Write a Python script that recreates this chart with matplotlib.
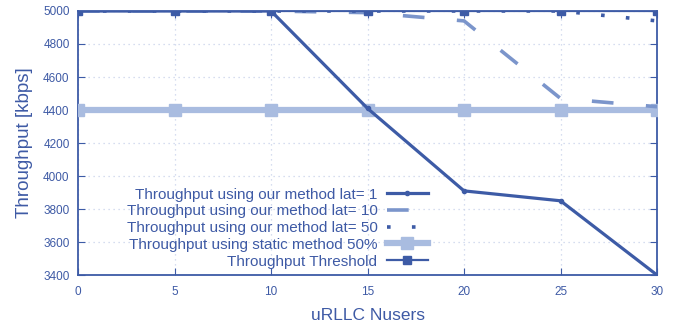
import matplotlib
matplotlib.use("Agg")
from matplotlib import pyplot as plt

plt.rcParams['font.family'] = ['Liberation Sans', 'DejaVu Sans']

# data
nusers = [0, 5, 10, 15, 20, 25, 30]
thr_lat1 = [5000, 5000, 5000, 4410, 3910, 3850, 3400]
thr_lat10 = [5000, 5000, 5000, 4990, 4940, 4470, 4420]
thr_lat50 = [5000, 5000, 5000, 5000, 5000, 5000, 4940]
thr_static = [4400, 4400, 4400, 4400, 4400, 4400, 4400]
thr_threshold = [5000, 5000, 5000, 5000, 5000, 5000, 5000]

dark = "#3d5ba6"
mid = "#7b95cb"
light = "#a9bce0"
text_c = "#3e5aa5"

fig = plt.figure(figsize=(6.88, 3.31), dpi=100)
ax = fig.add_axes([0.1134, 0.169, 0.8416, 0.7978])

ax.plot(nusers, thr_lat1, color=dark, lw=2.3, marker="o", markersize=3,
        label="Throughput using our method lat= 1", zorder=5)
ax.plot(nusers, thr_lat10, color=mid, lw=2.6, dashes=(6, 9),
        label="Throughput using our method lat= 10", zorder=4)
ax.plot(nusers, thr_lat50, color=dark, lw=2.6, linestyle=(0, (1, 5.9)),
        dash_capstyle="butt", label="Throughput using our method lat= 50", zorder=4)
ax.plot(nusers, thr_static, color=light, lw=4.5, marker="s", markersize=8,
        label="Throughput using static method 50%", zorder=3)
ax.plot(nusers, thr_threshold, color=dark, lw=1.6, marker="s", markersize=5.5,
        label="Throughput Threshold", zorder=6)

ax.set_xlim(0, 30)
ax.set_ylim(3400, 5000)
ax.set_xticks(range(0, 31, 5))
ax.set_yticks(range(3400, 5001, 200))
ax.grid(True, linestyle=(0, (1, 3)), color="#c9d3ea", lw=0.9)

for s in ax.spines.values():
    s.set_color(dark)
    s.set_linewidth(1.3)
ax.tick_params(direction="in", length=5, color=dark, labelcolor=text_c,
               labelsize=8.5, top=True, right=True, pad=6)
ax.tick_params(axis="x", pad=8)

ax.set_xlabel("uRLLC Nusers", color=text_c, fontsize=12.5, labelpad=7)
ax.set_ylabel("Throughput [kbps]", color=text_c, fontsize=13.5, labelpad=7)

leg = ax.legend(loc="lower right", bbox_to_anchor=(0.62, -0.01), frameon=False,
                markerfirst=False, fontsize=11, handlelength=2.7,
                labelspacing=0.18, handletextpad=0.6, borderaxespad=0.2)
for t in leg.get_texts():
    t.set_color(text_c)
    t.set_ha("right")
leg._legend_box.align = "right"

fig.savefig("out.png", dpi=100)
